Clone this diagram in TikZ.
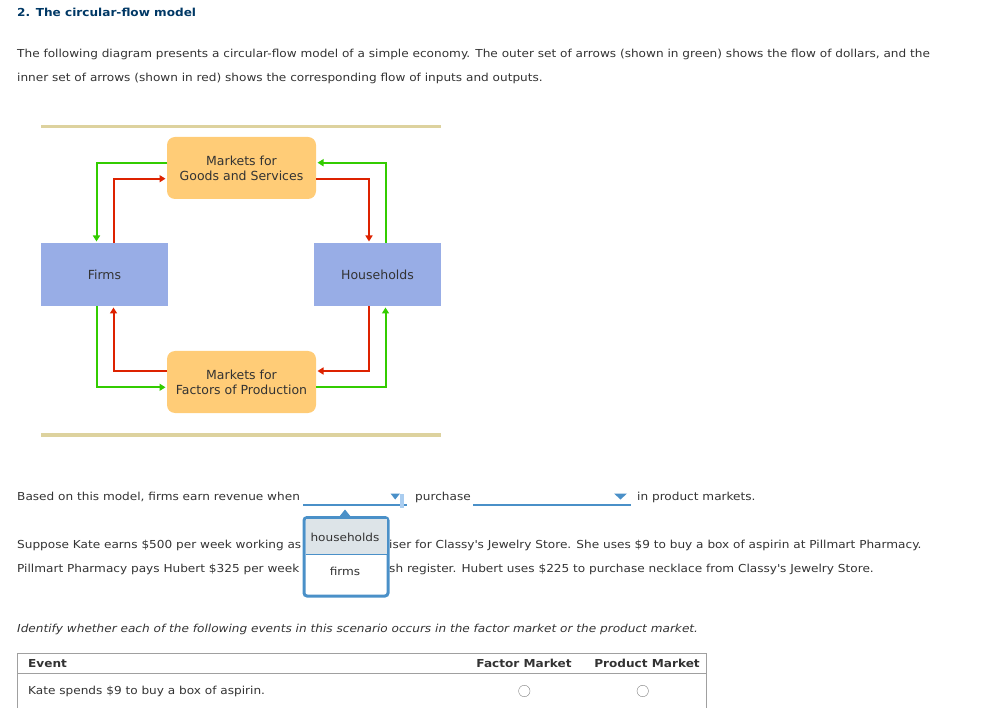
\documentclass[tikz,border=0pt]{standalone}
\usepackage{fontspec}
\setmainfont{DejaVu Sans}[FakeStretch=1.1]
\newfontfamily\diagramfont{DejaVu Sans}
\usetikzlibrary{arrows.meta}

\definecolor{txtgray}{RGB}{51,51,51}
\definecolor{titleblue}{RGB}{0,56,101}
\definecolor{rulebeige}{RGB}{221,210,158}
\definecolor{marketorange}{RGB}{255,204,119}
\definecolor{agentblue}{RGB}{152,173,230}
\definecolor{flowgreen}{RGB}{51,204,0}
\definecolor{flowred}{RGB}{221,34,0}
\definecolor{dropblue}{RGB}{74,144,200}
\definecolor{droplight}{RGB}{170,205,240}
\definecolor{optgray}{RGB}{221,228,232}
\definecolor{tablegray}{RGB}{160,160,160}

\begin{document}
\begin{tikzpicture}[x=1pt, y=-1pt,
    txt/.style={anchor=base west, inner sep=0pt, font=\fontsize{11}{13}\selectfont, text=txtgray},
    market/.style={rectangle, rounded corners=8pt, fill=marketorange, minimum width=149pt, minimum height=62pt, align=center, font=\diagramfont\fontsize{12.5}{15}\selectfont, text=txtgray, outer sep=1.5pt},
    agent/.style={rectangle, fill=agentblue, minimum width=127pt, minimum height=63pt, font=\diagramfont\fontsize{12.5}{15}\selectfont, text=txtgray, outer sep=1.5pt},
    money/.style={flowgreen, line width=2pt, shorten <=-1.5pt, -{Triangle[length=6pt, width=7pt]}},
    real/.style={flowred, line width=2pt, shorten <=-1.5pt, -{Triangle[length=6pt, width=7pt]}},
    option/.style={font=\fontsize{11}{13}\selectfont, text=txtgray, inner sep=0pt},
    radio/.style={draw=gray, thin}
]
    \useasboundingbox (0,0) rectangle (1001,708);

    % Titel und Einleitung
    \node[txt, font=\fontsize{11}{13}\selectfont\bfseries, text=titleblue] (title) at (17,17) {2. The circular-flow model};
    \node[txt] (intro1) at (17,57.5) {The following diagram presents a circular-flow model of a simple economy. The outer set of arrows (shown in green) shows the flow of dollars, and the};
    \node[txt] (intro2) at (17,81.5) {inner set of arrows (shown in red) shows the corresponding flow of inputs and outputs.};

    % Rahmenlinien
    \draw[rulebeige, line width=3.3pt] (41,126.7) -- (441,126.7);
    \draw[rulebeige, line width=3.3pt] (41,435) -- (441,435);

    % Knoten
    \node[market] (goods) at (241.5,168) {Markets for\\Goods and Services};
    \node[market] (factors) at (241.5,382) {Markets for\\Factors of Production};
    \node[agent] (firms) at (104.5,274.5) {Firms};
    \node[agent] (households) at (377.5,274.5) {Households};

    % Geldstrom (aussen)
    \draw[money] ([yshift=5.3pt]goods.west) -| ([xshift=-8pt]firms.north);
    \draw[money] ([xshift=8pt]households.north) |- ([yshift=5.3pt]goods.east);
    \draw[money] ([xshift=-8pt]firms.south) |- ([yshift=-5.3pt]factors.west);
    \draw[money] ([yshift=-5.3pt]factors.east) -| ([xshift=8pt]households.south);

    % Gueterstrom (innen)
    \draw[real] ([xshift=9pt]firms.north) |- ([yshift=-10.7pt]goods.west);
    \draw[real] ([yshift=-10.7pt]goods.east) -| ([xshift=-8.5pt]households.north);
    \draw[real] ([xshift=-8.5pt]households.south) |- ([yshift=11pt]factors.east);
    \draw[real] ([yshift=11pt]factors.west) -| ([xshift=9pt]firms.south);

    % Frage mit Auswahlfeldern
    \node[txt] (q1) at (17,500) {Based on this model, firms earn revenue when};
    \draw[dropblue, line width=1.5pt] (303,505) -- (407,505);
    \fill[dropblue] (390.5,493.5) -- (400,493.5) -- (395.2,499.5) -- cycle;
    \fill[droplight] (400,494) rectangle (404,508);
    \node[txt] (q2) at (415,500) {purchase};
    \draw[dropblue, line width=1.5pt] (473,505) -- (631,505);
    \fill[dropblue] (614,493.5) -- (627,493.5) -- (620.5,499.5) -- cycle;
    \node[txt] (q3) at (637,500) {in product markets.};

    % Szenario
    \node[txt] (s1a) at (17,548) {Suppose Kate earns \$500 per week working as};
    \node[txt] (s1b) at (389,548) {iser for Classy\textquotesingle s Jewelry Store. She uses \$9 to buy a box of aspirin at Pillmart Pharmacy.};
    \node[txt] (s2a) at (17,572) {Pillmart Pharmacy pays Hubert \$325 per week};
    \node[txt] (s2b) at (389,572) {sh register. Hubert uses \$225 to purchase necklace from Classy\textquotesingle s Jewelry Store.};

    % Aufklappliste
    \fill[dropblue] (339,517) -- (345,509.5) -- (351,517) -- cycle;
    \draw[dropblue, fill=white, line width=3pt, rounded corners=3pt] (304,517.5) rectangle (388,596);
    \fill[optgray] (305.5,519) rectangle (386.5,554);
    \draw[dropblue, thin] (305.5,554) -- (386.5,554);
    \node[option] (opthh) at (345,537) {households};
    \node[option] (optfirms) at (345,571) {firms};

    % Aufgabe
    \node[txt, font=\fontsize{11}{13}\selectfont\itshape] (task) at (17,632) {Identify whether each of the following events in this scenario occurs in the factor market or the product market.};

    % Tabelle
    \draw[tablegray] (17,708) -- (17,653) -- (706,653) -- (706,708);
    \draw[tablegray] (17,673.3) -- (706,673.3);
    \node[txt, font=\fontsize{11}{13}\selectfont\bfseries] (hevent) at (28,667) {Event};
    \node[txt, anchor=base, font=\fontsize{11}{13}\selectfont\bfseries] (hfactor) at (524,667) {Factor Market};
    \node[txt, anchor=base, font=\fontsize{11}{13}\selectfont\bfseries] (hproduct) at (647,667) {Product Market};
    \node[txt] (event1) at (28,694) {Kate spends \$9 to buy a box of aspirin.};
    \draw[radio] (524.3,691) circle[radius=5.7pt];
    \draw[radio] (642.7,691) circle[radius=5.7pt];
\end{tikzpicture}
\end{document}
